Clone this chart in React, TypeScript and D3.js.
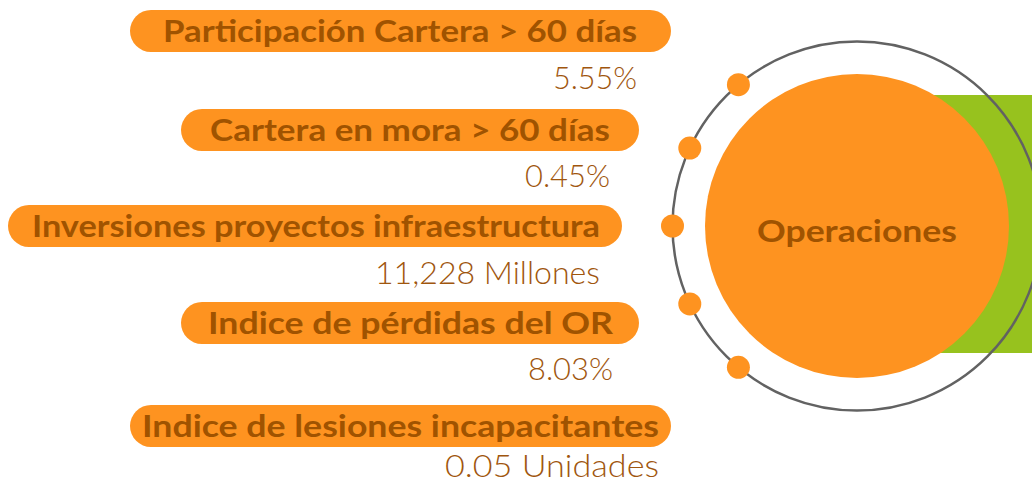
import React from "react";
import * as d3 from "d3";

// ---------- DATA ----------
const indicators = [
  "Participación Cartera > 60 días",
  "Cartera en mora > 60 días",
  "Inversiones proyectos infraestructura",
  "Indice de pérdidas del OR",
  "Indice de lesiones incapacitantes",
];
const values = ["5.55%", "0.45%", "11,228 Millones", "8.03%", "0.05 Unidades"];
const centerLabel = "Operaciones";

// ---------- LAYOUT (not data) ----------
const W = 1032;
const H = 483;
const pillTop = [10, 109, 205, 302, 405];
const pillLeft = [130, 181, 8, 181, 130];
const pillRight = [671, 639, 622, 639, 671];
const pillH = 42;
const labelStart = [163, 210, 32, 208, 142];
const labelEnd = [637, 610, 600, 613, 659];
const valueStart = [553, 525, 375, 528, 445];
const valueBase = [89, 187, 284, 380, 477];

const ringC = { x: 857, y: 226 };
const ringR = 184.5;
const discR = 152;

const COLORS = {
  orange: "#FE9320",
  green: "#97C21E",
  ring: "#626262",
  label: "#A05300",
  value: "#A0560E",
};

export default function App() {
  const row = d3.scaleOrdinal<string, number>().domain(indicators).range(d3.range(indicators.length));
  // dots spread evenly along the left side of the ring
  const angle = d3
    .scalePoint<string>()
    .domain(indicators)
    .range([(130 * Math.PI) / 180, (230 * Math.PI) / 180]);

  return (
    <svg
      width={W}
      height={H}
      viewBox={`0 0 ${W} ${H}`}
      style={{ position: "fixed", left: 0, top: 0, background: "#fff" }}
    >
      {/* green backing rectangle */}
      <rect x={900} y={95} width={200} height={258} fill={COLORS.green} />
      {/* outer ring */}
      <circle cx={ringC.x} cy={ringC.y} r={ringR} fill="none" stroke={COLORS.ring} strokeWidth={2.5} />
      {/* main disc */}
      <circle cx={ringC.x} cy={ringC.y} r={discR} fill={COLORS.orange} />
      <text
        x={ringC.x}
        y={242}
        textAnchor="middle"
        fontFamily="Lato, 'DejaVu Sans', sans-serif"
        fontWeight={700}
        fontSize={31}
        fill={COLORS.label}
        textLength={200}
        lengthAdjust="spacingAndGlyphs"
      >
        {centerLabel}
      </text>
      {/* dots on ring */}
      {indicators.map((d) => {
        const a = angle(d)!;
        return (
          <circle
            key={"dot" + d}
            cx={ringC.x + ringR * Math.cos(a)}
            cy={ringC.y - ringR * Math.sin(a)}
            r={11.5}
            fill={COLORS.orange}
          />
        );
      })}
      {/* pills + labels + values */}
      {indicators.map((d, k) => {
        const i = row(d);
        const top = pillTop[i];
        return (
          <g key={d}>
            <rect
              x={pillLeft[i]}
              y={top}
              width={pillRight[i] - pillLeft[i]}
              height={pillH}
              rx={pillH / 2}
              ry={pillH / 2}
              fill={COLORS.orange}
            />
            <text
              x={labelStart[i]}
              y={top + 32}
              fontFamily="Lato, 'DejaVu Sans', sans-serif"
              fontWeight={700}
              fontSize={31}
              fill={COLORS.label}
              textLength={labelEnd[i] - labelStart[i]}
              lengthAdjust="spacingAndGlyphs"
            >
              {d}
            </text>
            <text
              x={valueStart[i]}
              y={valueBase[i]}
              fontFamily="Lato, 'DejaVu Sans', sans-serif"
              fontWeight={300}
              fontSize={30.5}
              fill={COLORS.value}
              textLength={labelEnd[i] - valueStart[i]}
              lengthAdjust="spacingAndGlyphs"
            >
              {values[k]}
            </text>
          </g>
        );
      })}
    </svg>
  );
}
